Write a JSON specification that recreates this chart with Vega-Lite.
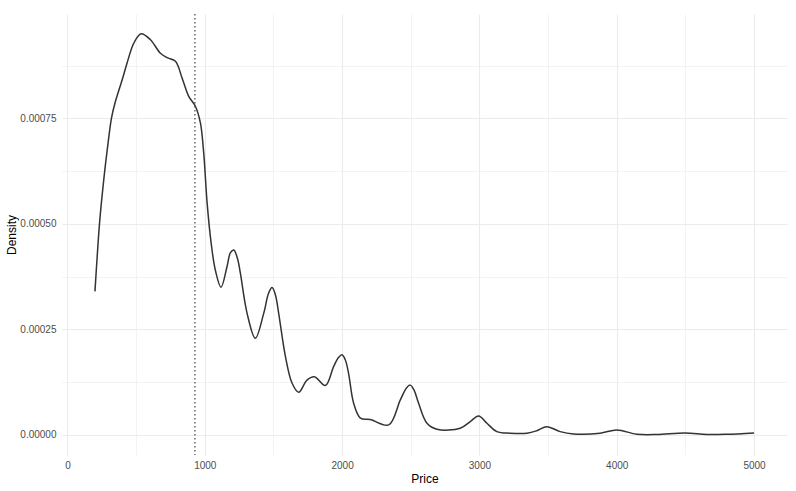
{
  "$schema": "https://vega.github.io/schema/vega-lite/v6.json",
  "autosize": "none",
  "width": 725,
  "height": 441,
  "padding": {"left": 62, "top": 14, "right": 9, "bottom": 36},
  "background": "white",
  "config": {
    "view": {"stroke": null},
    "font": "Liberation Sans",
    "axis": {
      "domain": false,
      "ticks": false,
      "gridColor": "#ebebeb",
      "labelColor": "#4d4d4d",
      "labelFontSize": 10,
      "titleFontSize": 12,
      "titleFontWeight": "normal",
      "titleColor": "#000000"
    }
  },
  "datasets": {
    "density": [
      {"price": 200, "density": 0.00034},
      {"price": 233, "density": 0.0005},
      {"price": 250, "density": 0.00056},
      {"price": 271, "density": 0.000625},
      {"price": 295, "density": 0.00069},
      {"price": 320, "density": 0.00075},
      {"price": 345, "density": 0.000785},
      {"price": 373, "density": 0.000815},
      {"price": 400, "density": 0.000843},
      {"price": 434, "density": 0.000881},
      {"price": 483, "density": 0.000928},
      {"price": 536, "density": 0.00095},
      {"price": 604, "density": 0.000936},
      {"price": 677, "density": 0.000904},
      {"price": 730, "density": 0.000893},
      {"price": 786, "density": 0.000885},
      {"price": 835, "density": 0.000845},
      {"price": 883, "density": 0.000802},
      {"price": 932, "density": 0.000778},
      {"price": 968, "density": 0.000739},
      {"price": 992, "density": 0.000668},
      {"price": 1017, "density": 0.000549},
      {"price": 1046, "density": 0.000455},
      {"price": 1077, "density": 0.00039},
      {"price": 1118, "density": 0.00035},
      {"price": 1162, "density": 0.000399},
      {"price": 1186, "density": 0.000431},
      {"price": 1211, "density": 0.000438},
      {"price": 1238, "density": 0.000418},
      {"price": 1259, "density": 0.000383},
      {"price": 1308, "density": 0.000288},
      {"price": 1368, "density": 0.000229},
      {"price": 1429, "density": 0.000288},
      {"price": 1465, "density": 0.000336},
      {"price": 1490, "density": 0.000349},
      {"price": 1514, "density": 0.000332},
      {"price": 1538, "density": 0.000288},
      {"price": 1587, "density": 0.000186},
      {"price": 1635, "density": 0.000123},
      {"price": 1684, "density": 0.000101},
      {"price": 1744, "density": 0.00013},
      {"price": 1798, "density": 0.000138},
      {"price": 1878, "density": 0.000117},
      {"price": 1938, "density": 0.000162},
      {"price": 1975, "density": 0.000184},
      {"price": 1999, "density": 0.00019},
      {"price": 2023, "density": 0.000178},
      {"price": 2047, "density": 0.000146},
      {"price": 2084, "density": 0.000075},
      {"price": 2133, "density": 0.00004},
      {"price": 2205, "density": 0.0000365},
      {"price": 2339, "density": 0.0000237},
      {"price": 2424, "density": 0.000083},
      {"price": 2470, "density": 0.000112},
      {"price": 2496, "density": 0.000118},
      {"price": 2524, "density": 0.000106},
      {"price": 2557, "density": 0.000075},
      {"price": 2618, "density": 0.0000277},
      {"price": 2691, "density": 0.0000134},
      {"price": 2860, "density": 0.0000158},
      {"price": 2933, "density": 0.0000316},
      {"price": 2994, "density": 0.000045},
      {"price": 3055, "density": 0.0000277},
      {"price": 3127, "density": 0.0000079},
      {"price": 3224, "density": 0.000004},
      {"price": 3346, "density": 0.000004},
      {"price": 3418, "density": 0.00001},
      {"price": 3491, "density": 0.0000197},
      {"price": 3588, "density": 0.0000079},
      {"price": 3685, "density": 0.0000024},
      {"price": 3879, "density": 0.000004},
      {"price": 4000, "density": 0.0000118},
      {"price": 4146, "density": 0.0000017},
      {"price": 4292, "density": 0.000001},
      {"price": 4498, "density": 0.0000047},
      {"price": 4656, "density": 0.000001},
      {"price": 4800, "density": 0.0000015},
      {"price": 5000, "density": 0.0000047}
    ],
    "median": [{"median": 928}]
  },
  "layer": [
    {
      "data": {"name": "density"},
      "mark": {"type": "line", "color": "#333333", "strokeWidth": 1.5, "interpolate": "catmull-rom"},
      "encoding": {
        "x": {
          "field": "price",
          "type": "quantitative",
          "title": "Price",
          "scale": {"domain": [-40, 5240], "nice": false, "zero": false},
          "axis": {
            "values": [0, 500, 1000, 1500, 2000, 2500, 3000, 3500, 4000, 4500, 5000],
            "labelExpr": "datum.value % 1000 === 0 ? format(datum.value, 'd') : ''",
            "gridWidth": {"condition": {"test": "datum.value % 1000 !== 0", "value": 0.6}, "value": 1.1},
            "labelPadding": 5,
            "titlePadding": 3
          }
        },
        "y": {
          "field": "density",
          "type": "quantitative",
          "title": "Density",
          "scale": {"domain": [-0.0000475, 0.000997], "nice": false, "zero": false},
          "axis": {
            "values": [0, 0.000125, 0.00025, 0.000375, 0.0005, 0.000625, 0.00075, 0.000875],
            "labelExpr": "indexof([0.000125, 0.000375, 0.000625, 0.000875], datum.value) >= 0 ? '' : format(datum.value, '.5f')",
            "gridWidth": {"condition": {"test": "indexof([0.000125, 0.000375, 0.000625, 0.000875], datum.value) >= 0", "value": 0.6}, "value": 1.1},
            "labelPadding": 6,
            "titlePadding": 1
          }
        }
      }
    },
    {
      "data": {"name": "median"},
      "mark": {"type": "rule", "color": "#444444", "strokeWidth": 1.2, "strokeDash": [1.5, 2.5]},
      "encoding": {
        "x": {"field": "median", "type": "quantitative"}
      }
    }
  ]
}
